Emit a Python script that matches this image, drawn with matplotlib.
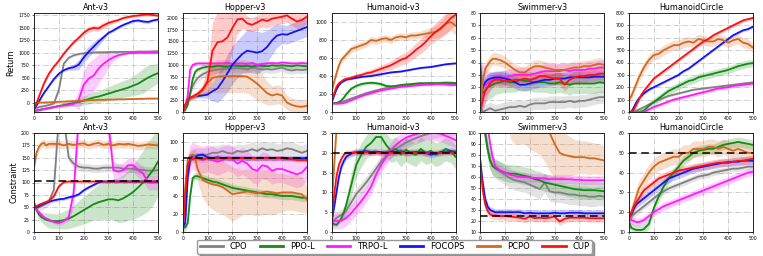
import numpy as np
import matplotlib.pyplot as plt
from matplotlib.lines import Line2D

# x positions (training epochs)
X = [0, 10, 20, 30, 40, 50, 60, 80, 100, 120, 140, 160, 180, 200, 220, 240,
     260, 280, 300, 320, 340, 360, 380, 400, 420, 440, 460, 480, 500]

METHODS = ["CPO", "PPO-L", "TRPO-L", "FOCOPS", "PCPO", "CUP"]
COLORS = ["#808080", "#138a13", "#ff1aff", "#1414f0", "#d2691e", "#ff1010"]

TASKS = ["Ant-v3", "Hopper-v3", "Humanoid-v3", "Swimmer-v3", "HumanoidCircle"]
COST_LIMITS = [103, 82.75, 20, 24.5, 50]

# ---------------- Return: Ant-v3 ----------------
ant_r_cpo = [-130, -110, -90, -80, -70, -60, -50, -20, 250, 780, 900, 950, 975, 990, 1000,
             1005, 1010, 1010, 1015, 1015, 1015, 1020, 1020, 1020, 1025, 1025, 1025, 1030, 1030]
ant_r_ppo = [-170, -160, -150, -140, -130, -120, -110, -90, -70, -50, -30, -10, 10, 40, 70,
             100, 120, 150, 180, 210, 240, 270, 300, 340, 380, 440, 500, 550, 590]
ant_r_trpo = [-170, -160, -150, -140, -130, -120, -110, -90, -70, -60, -50, -30, 50, 350, 480,
              540, 680, 780, 850, 910, 950, 975, 990, 995, 1000, 1000, 1000, 1000, 1000]
ant_r_focops = [-130, -60, 20, 110, 190, 260, 330, 470, 580, 650, 690, 710, 760, 900, 1020,
                1120, 1220, 1310, 1400, 1450, 1510, 1560, 1600, 1640, 1650, 1630, 1620, 1650, 1670]
ant_r_pcpo = [-10, -5, 0, 0, 0, 5, 5, 10, 15, 20, 25, 30, 35, 40, 45,
              50, 55, 55, 60, 60, 65, 65, 70, 70, 75, 75, 80, 80, 80]
ant_r_cup = [-130, -20, 120, 250, 380, 480, 580, 720, 840, 980, 1100, 1210, 1300, 1400, 1470,
             1500, 1490, 1550, 1600, 1630, 1660, 1700, 1720, 1740, 1750, 1765, 1770, 1760, 1745]
ant_r_cpo_sd = 25
ant_r_ppo_sd = [30, 30, 30, 30, 30, 30, 30, 30, 40, 50, 60, 70, 80, 90, 100,
                110, 120, 130, 140, 150, 160, 170, 180, 200, 220, 250, 250, 220, 200]
ant_r_trpo_sd = [20, 20, 20, 20, 20, 20, 20, 20, 20, 20, 20, 40, 200, 300, 320,
                 330, 300, 250, 150, 80, 40, 20, 20, 20, 20, 20, 20, 20, 20]
ant_r_focops_sd = [20, 20, 20, 20, 20, 20, 20, 30, 30, 30, 40, 60, 100, 110, 110,
                   100, 80, 50, 30, 30, 30, 30, 30, 30, 30, 30, 30, 30, 30]
ant_r_pcpo_sd = 15
ant_r_cup_sd = [20, 20, 20, 25, 25, 30, 30, 30, 30, 30, 30, 30, 40, 50, 60,
                60, 60, 60, 50, 40, 30, 30, 30, 30, 30, 30, 30, 30, 30]

# ---------------- Return: Hopper-v3 ----------------
hop_r_cpo = [0, 100, 250, 400, 550, 650, 720, 800, 850, 880, 900, 910, 920, 920, 930,
             920, 900, 950, 920, 900, 910, 900, 920, 940, 900, 880, 900, 890, 900]
hop_r_ppo = [0, 50, 150, 400, 700, 850, 900, 940, 960, 960, 980, 970, 960, 990, 980,
             970, 980, 960, 990, 980, 970, 990, 980, 990, 980, 970, 990, 980, 970]
hop_r_trpo = [0, 100, 350, 900, 1000, 1020, 1030, 1030, 1030, 1030, 1030, 1030, 1040, 1020, 1030,
              1030, 1020, 1040, 1000, 1020, 1030, 1040, 1030, 1050, 1040, 1030, 1030, 1040, 1030]
hop_r_focops = [0, 150, 250, 300, 320, 330, 340, 350, 370, 440, 500, 650, 820, 1000, 1120,
                1230, 1300, 1280, 1260, 1290, 1380, 1520, 1620, 1650, 1640, 1680, 1720, 1760, 1800]
hop_r_pcpo = [0, 150, 250, 280, 300, 330, 360, 450, 620, 720, 750, 760, 760, 760, 760,
              760, 750, 680, 600, 500, 400, 350, 380, 350, 200, 150, 120, 110, 130]
hop_r_cup = [0, 150, 250, 300, 330, 360, 390, 480, 650, 1300, 1480, 1500, 1580, 1780, 1960,
             1980, 1880, 1850, 1900, 1960, 1930, 1980, 2000, 2020, 2050, 1980, 1920, 1950, 2020]
hop_r_cpo_sd = 80
hop_r_ppo_sd = 50
hop_r_trpo_sd = 40
hop_r_focops_sd = [10, 30, 40, 40, 40, 40, 40, 50, 80, 200, 300, 350, 400, 400, 400,
                   400, 450, 450, 450, 400, 350, 300, 250, 200, 200, 200, 200, 200, 200]
hop_r_pcpo_sd = [10, 30, 40, 40, 40, 50, 60, 100, 200, 300, 350, 350, 350, 350, 350,
                 350, 350, 350, 350, 300, 250, 200, 200, 200, 150, 150, 150, 150, 150]
hop_r_cup_sd = [10, 30, 50, 50, 50, 50, 60, 100, 300, 600, 650, 650, 600, 500, 300,
                200, 150, 150, 150, 150, 150, 150, 150, 150, 150, 150, 150, 150, 150]

# ---------------- Return: Humanoid-v3 ----------------
hum_r_cpo = [100, 100, 100, 105, 110, 120, 130, 150, 170, 190, 210, 225, 240, 255, 265,
             275, 285, 290, 295, 300, 305, 310, 315, 320, 320, 325, 325, 320, 320]
hum_r_ppo = [100, 100, 100, 110, 130, 160, 200, 260, 290, 310, 320, 325, 320, 310, 290,
             285, 290, 300, 305, 310, 315, 320, 320, 320, 320, 320, 325, 325, 320]
hum_r_trpo = [100, 95, 95, 95, 95, 100, 110, 130, 155, 175, 195, 210, 225, 240, 250,
              260, 270, 280, 285, 290, 295, 300, 305, 305, 310, 310, 305, 300, 300]
hum_r_focops = [100, 180, 250, 300, 330, 345, 360, 370, 380, 390, 395, 400, 410, 420, 430,
                440, 445, 450, 460, 470, 480, 490, 495, 500, 510, 520, 530, 535, 540]
hum_r_pcpo = [220, 330, 430, 520, 580, 610, 640, 700, 720, 740, 760, 800, 790, 810, 820,
              800, 830, 840, 830, 850, 850, 860, 870, 880, 890, 920, 980, 1000, 960]
hum_r_cup = [100, 200, 280, 320, 340, 360, 370, 380, 400, 410, 430, 440, 460, 480, 500,
             520, 550, 580, 600, 640, 690, 730, 780, 840, 890, 930, 980, 1040, 1080]
hum_r_cpo_sd = 15
hum_r_ppo_sd = 20
hum_r_trpo_sd = 15
hum_r_focops_sd = 10
hum_r_pcpo_sd = [30, 40, 40, 40, 40, 40, 40, 40, 40, 40, 40, 40, 40, 40, 40,
                 40, 40, 40, 40, 40, 40, 40, 50, 60, 70, 80, 100, 100, 100]
hum_r_cup_sd = [10, 20, 20, 20, 20, 20, 20, 20, 25, 30, 30, 35, 40, 40, 45,
                50, 55, 60, 65, 70, 75, 80, 85, 90, 100, 110, 120, 120, 120]

# ---------------- Return: Swimmer-v3 ----------------
swm_r_cpo = [5, 0, 1, 2, 3, 2, 1, 2, 3, 4, 4, 5, 4, 6, 7,
             7, 7, 8, 8, 8, 8, 9, 8, 9, 9, 10, 11, 12, 12]
swm_r_ppo = [40, 15, 17, 20, 21, 22, 23, 24, 25, 24, 24, 26, 25, 25, 24,
             24, 24, 23, 23, 24, 23, 22, 23, 23, 23, 23, 23, 24, 23.5]
swm_r_trpo = [10, 20, 22, 23, 25, 26, 27, 27, 28, 29, 30, 30, 30, 30, 31,
              32, 33, 33, 33, 33, 34, 33, 34, 34, 34, 35, 35, 36, 36]
swm_r_focops = [10, 20, 24, 26, 27, 27.5, 28, 28, 27, 26, 24, 22, 22, 23, 24,
                25, 26, 26, 27, 27, 27, 28, 28, 28, 28, 28, 28.5, 28.5, 28.5]
swm_r_pcpo = [0, 25, 35, 38, 41, 43, 43, 42, 40, 37, 34, 32, 32, 35, 37,
              37, 36, 35, 34, 34, 34, 35, 36, 36, 37, 37, 38, 39, 38]
swm_r_cup = [0, 10, 17, 20, 23, 25, 26, 26, 25, 25, 26, 26, 27, 26, 27,
             29, 29, 28, 27, 27, 22, 26, 28, 29, 29, 30, 30, 31, 31]
swm_r_cpo_sd = 5
swm_r_ppo_sd = [20, 12, 10, 10, 10, 10, 9, 9, 9, 8, 8, 8, 8, 8, 8,
                8, 8, 8, 8, 8, 8, 8, 8, 8, 8, 8, 8, 8, 8]
swm_r_trpo_sd = [25, 20, 15, 10, 8, 6, 6, 6, 6, 6, 6, 6, 6, 6, 6,
                 6, 6, 6, 6, 6, 6, 6, 6, 6, 6, 6, 6, 6, 6]
swm_r_focops_sd = 5
swm_r_pcpo_sd = 5
swm_r_cup_sd = 5

# ---------------- Return: HumanoidCircle ----------------
hc_r_cpo = [0, 0, 0, 10, 20, 30, 40, 60, 80, 100, 115, 130, 140, 150, 160,
            170, 180, 185, 190, 195, 200, 205, 210, 215, 220, 225, 230, 235, 240]
hc_r_ppo = [0, 0, 0, 0, 0, 5, 10, 50, 80, 110, 140, 170, 190, 210, 230,
            250, 260, 280, 290, 300, 310, 320, 330, 340, 355, 370, 380, 390, 395]
hc_r_trpo = [0, 0, 0, 0, 0, 0, 0, 20, 40, 55, 70, 85, 100, 110, 120,
             130, 140, 150, 160, 170, 180, 190, 195, 200, 210, 215, 220, 225, 230]
hc_r_focops = [0, 0, 40, 80, 110, 130, 150, 180, 200, 220, 240, 260, 280, 300, 330,
               350, 380, 410, 440, 470, 500, 530, 560, 590, 620, 640, 660, 670, 690]
hc_r_pcpo = [100, 130, 180, 230, 280, 320, 360, 420, 460, 470, 500, 520, 540, 540, 560,
             570, 560, 590, 580, 570, 570, 590, 580, 560, 580, 590, 560, 550, 520]
hc_r_cup = [0, 0, 20, 60, 100, 140, 170, 220, 270, 300, 330, 360, 390, 420, 450,
            480, 510, 540, 570, 590, 620, 640, 660, 680, 700, 720, 740, 750, 760]
hc_r_cpo_sd = 10
hc_r_ppo_sd = 30
hc_r_trpo_sd = 15
hc_r_focops_sd = 10
hc_r_pcpo_sd = 40
hc_r_cup_sd = 15

# ---------------- Constraint: Ant-v3 ----------------
ant_c_cpo = [50, 48, 50, 52, 55, 58, 62, 85, 230, 230, 150, 138, 132, 130, 130,
             128, 128, 130, 130, 130, 130, 128, 128, 128, 126, 125, 124, 124, 125]
ant_c_ppo = [60, 45, 35, 30, 27, 25, 23, 22, 22, 24, 27, 32, 38, 44, 50,
             56, 60, 63, 66, 66, 64, 68, 74, 81, 90, 100, 112, 125, 142]
ant_c_trpo = [50, 45, 40, 35, 30, 27, 25, 20, 18, 22, 30, 80, 230, 240, 240,
              240, 240, 240, 220, 125, 122, 125, 135, 135, 125, 118, 100, 100, 100]
ant_c_focops = [50, 50, 52, 55, 57, 59, 61, 64, 66, 67, 70, 72, 76, 84, 90,
                95, 100, 102, 102, 102, 102, 102, 102, 102, 102, 102, 102, 102, 102]
ant_c_pcpo = [130, 160, 172, 178, 180, 175, 178, 178, 178, 175, 178, 176, 178, 179, 175,
              178, 180, 176, 178, 175, 178, 177, 178, 176, 174, 175, 177, 176, 175]
ant_c_cup = [50, 52, 55, 57, 59, 61, 63, 72, 92, 101, 102, 102, 102, 102, 102,
             102, 102, 102, 102, 102, 102, 102, 102, 102, 102, 102, 102, 102, 102]
ant_c_cpo_sd = 8
ant_c_ppo_sd = [5, 5, 8, 10, 12, 14, 15, 15, 15, 18, 20, 22, 25, 28, 30,
                32, 35, 38, 40, 42, 45, 48, 50, 55, 60, 65, 70, 70, 70]
ant_c_trpo_sd = [3, 3, 3, 3, 3, 3, 3, 3, 5, 5, 8, 30, 30, 30, 30,
                 30, 30, 30, 30, 20, 15, 15, 15, 15, 15, 15, 15, 15, 15]
ant_c_focops_sd = 3
ant_c_pcpo_sd = 8
ant_c_cup_sd = 2

# ---------------- Constraint: Hopper-v3 ----------------
hop_c_cpo = [5, 40, 75, 82, 85, 85, 86, 85, 86, 88, 88, 90, 88, 87, 90,
             89, 90, 92, 90, 93, 91, 92, 90, 91, 93, 92, 90, 88, 90]
hop_c_ppo = [5, 5, 10, 40, 60, 62, 62, 60, 58, 56, 55, 53, 51, 49, 48,
             47, 46, 45, 44, 43, 42, 42, 41, 40, 40, 40, 39, 38, 38]
hop_c_trpo = [5, 30, 70, 82, 85, 83, 82, 80, 82, 80, 78, 80, 83, 81, 76,
              79, 76, 70, 68, 74, 73, 68, 70, 70, 68, 66, 64, 66, 72]
hop_c_focops = [5, 10, 60, 80, 85, 83, 85, 86, 83, 82, 83, 82, 82, 82, 82,
                82, 82, 82, 82, 82, 82, 82, 82, 82, 82, 82, 82, 82, 82]
hop_c_pcpo = [5, 50, 80, 85, 86, 82, 70, 58, 55, 53, 52, 50, 46, 42, 43,
              44, 45, 44, 43, 44, 45, 44, 43, 44, 44, 44, 43, 42, 36]
hop_c_cup = [5, 40, 75, 80, 81, 82, 82, 81, 82, 82, 82, 82, 82, 82, 82,
             82, 82, 82, 82, 82, 82, 82, 82, 82, 81, 81, 80, 80, 80]
hop_c_cpo_sd = 8
hop_c_ppo_sd = 4
hop_c_trpo_sd = 15
hop_c_focops_sd = 3
hop_c_pcpo_sd = [2, 5, 5, 5, 5, 10, 15, 20, 25, 28, 30, 30, 30, 30, 28,
                 25, 25, 25, 25, 25, 25, 25, 22, 22, 20, 20, 20, 20, 15]
hop_c_cup_sd = 2

# ---------------- Constraint: Humanoid-v3 ----------------
hum_c_cpo = [2.5, 3, 3.5, 4, 4.3, 4.8, 5.5, 7.5, 9.6, 11, 12.5, 14.2, 16, 17.8, 19.2,
             20.2, 21, 21.8, 22.6, 23.2, 23.7, 24.2, 24.6, 25, 25.2, 25.5, 25.7, 25.8, 26]
hum_c_ppo = [2.5, 2, 1.8, 2.5, 3.5, 5, 7, 12, 17, 19.5, 21.5, 22.5, 24, 24, 22,
             20.5, 21, 19.5, 20.8, 20, 19.5, 21, 20, 20.5, 19.5, 20, 21, 20.5, 19]
hum_c_trpo = [2.5, 2.8, 2.8, 2.8, 2.9, 3.2, 3.6, 4.8, 6.3, 7.8, 9.5, 11.5, 14.5, 17, 18.8,
              20.7, 22, 23, 23.8, 24.3, 24.7, 25, 25.2, 25.2, 25, 24.8, 24.3, 23.8, 23.2]
hum_c_focops = [2.5, 6, 10, 14, 16.5, 18, 19, 19.8, 20.2, 20.3, 20.4, 20.2, 20.3, 20.2, 20,
                20.3, 20.2, 20.4, 20, 20.1, 20.2, 20.3, 20, 19.5, 19.8, 20.2, 20.3, 20.4, 20.3]
hum_c_pcpo = [6, 16, 26, 35, 40, 40, 40, 40, 40, 40, 40, 40, 40, 40, 40,
              40, 40, 40, 40, 40, 40, 40, 40, 40, 40, 40, 40, 40, 40]
hum_c_cup = [2.5, 9, 14, 17, 18.5, 19.5, 20, 20, 20.2, 19.8, 20.2, 19.9, 20.1, 19.8, 20.2,
             20, 19.9, 20.2, 19.8, 20.1, 20, 20.2, 19.8, 20.1, 20, 19.9, 20.2, 20, 20.1]
hum_c_cpo_sd = 1.5
hum_c_ppo_sd = [0.5, 0.5, 0.5, 0.5, 1, 1.5, 2, 3, 3, 3, 3, 3, 3, 3, 3,
                3, 3, 3, 3, 3, 3, 3, 3, 3, 3, 3, 3, 3, 3]
hum_c_trpo_sd = 2
hum_c_focops_sd = 0.8
hum_c_pcpo_sd = 2
hum_c_cup_sd = 0.7

# ---------------- Constraint: Swimmer-v3 ----------------
swm_c_cpo = [110, 110, 100, 85, 75, 70, 68, 65, 62, 59, 57, 56, 55, 53, 51,
             49, 55, 47, 46, 46, 45, 44, 44, 43, 43, 42, 42, 43, 42]
swm_c_ppo = [110, 110, 100, 85, 75, 70, 68, 66, 64, 63, 63, 62, 61, 60, 58,
             57, 55, 54, 53, 52, 51, 50, 49, 48.5, 48, 48, 48, 47.5, 47]
swm_c_trpo = [130, 130, 120, 105, 90, 78, 70, 66, 64, 62, 61, 60, 60, 59.5, 59,
              59, 58.5, 58, 58, 58, 58, 58, 57.5, 57.5, 57, 57, 57, 57, 57]
swm_c_focops = [75, 55, 40, 33, 30, 29, 28, 28, 28, 28, 28, 28, 27, 27.5, 27,
                27, 27, 27, 27.5, 27, 27, 27.5, 27.5, 27.5, 27, 27, 27, 27, 27]
swm_c_pcpo = [160, 160, 160, 160, 160, 160, 160, 160, 160, 150, 145, 140, 135, 130, 125,
              120, 112, 100, 90, 82, 80, 79, 78, 78, 78, 77, 77, 76, 75]
swm_c_cup = [72, 48, 35, 29, 26, 25, 25, 24.5, 24.5, 24, 23.5, 23, 22, 24, 22.5,
             23, 22.5, 23, 24, 19.5, 22, 23, 23, 23, 23, 22.5, 22.5, 22.5, 22.5]
swm_c_cpo_sd = 9
swm_c_ppo_sd = 8
swm_c_trpo_sd = 4
swm_c_focops_sd = 3
swm_c_pcpo_sd = [10, 10, 10, 10, 10, 10, 10, 10, 10, 55, 55, 50, 45, 45, 42,
                 40, 38, 35, 30, 25, 20, 18, 16, 15, 15, 15, 14, 14, 13]
swm_c_cup_sd = 3.5

# ---------------- Constraint: HumanoidCircle ----------------
hc_c_cpo = [17, 18, 19, 20, 21, 22, 23, 25, 27, 29, 30.5, 32, 33, 34, 35,
            36, 37, 38, 38.5, 39, 40, 40.5, 41, 41.5, 42, 42, 42.5, 43, 43]
hc_c_ppo = [15, 12, 11.5, 11, 11, 11, 11.5, 14, 22, 28, 33, 37, 40, 43, 46,
            48, 50, 51, 51.5, 52, 52, 53, 54, 54.5, 55, 55.5, 55, 54.5, 54]
hc_c_trpo = [17, 16, 15.5, 15, 15, 15.5, 16, 18, 20, 21.5, 23, 24, 25, 26, 27,
             28, 29, 30, 31, 32, 33, 34, 35, 36, 37, 38, 39, 40, 40.5]
hc_c_focops = [17, 19, 22, 24, 25, 26, 27, 29, 31, 33, 35, 37, 38, 39, 40,
               41, 42, 42.5, 43, 43.5, 44, 44.5, 45, 45, 45.5, 45.5, 46, 46, 46]
hc_c_pcpo = [17, 20, 24, 28, 32, 34, 36, 40, 43, 45, 46, 47, 48, 48, 50,
             50, 52, 52, 52, 53, 53, 52, 53, 52, 51, 52, 51, 50, 50]
hc_c_cup = [17, 20, 23, 25, 27, 29, 31, 33, 35, 37, 38, 39, 40, 41, 41.5,
            42, 42.5, 43, 43.5, 44, 44.5, 45, 45, 45.5, 45.5, 46, 46, 46.5, 47]
hc_c_cpo_sd = 1.5
hc_c_ppo_sd = 2.5
hc_c_trpo_sd = 2
hc_c_focops_sd = 2
hc_c_pcpo_sd = 4
hc_c_cup_sd = 2

RETURNS = [
    ([ant_r_cpo, ant_r_ppo, ant_r_trpo, ant_r_focops, ant_r_pcpo, ant_r_cup],
     [ant_r_cpo_sd, ant_r_ppo_sd, ant_r_trpo_sd, ant_r_focops_sd, ant_r_pcpo_sd, ant_r_cup_sd]),
    ([hop_r_cpo, hop_r_ppo, hop_r_trpo, hop_r_focops, hop_r_pcpo, hop_r_cup],
     [hop_r_cpo_sd, hop_r_ppo_sd, hop_r_trpo_sd, hop_r_focops_sd, hop_r_pcpo_sd, hop_r_cup_sd]),
    ([hum_r_cpo, hum_r_ppo, hum_r_trpo, hum_r_focops, hum_r_pcpo, hum_r_cup],
     [hum_r_cpo_sd, hum_r_ppo_sd, hum_r_trpo_sd, hum_r_focops_sd, hum_r_pcpo_sd, hum_r_cup_sd]),
    ([swm_r_cpo, swm_r_ppo, swm_r_trpo, swm_r_focops, swm_r_pcpo, swm_r_cup],
     [swm_r_cpo_sd, swm_r_ppo_sd, swm_r_trpo_sd, swm_r_focops_sd, swm_r_pcpo_sd, swm_r_cup_sd]),
    ([hc_r_cpo, hc_r_ppo, hc_r_trpo, hc_r_focops, hc_r_pcpo, hc_r_cup],
     [hc_r_cpo_sd, hc_r_ppo_sd, hc_r_trpo_sd, hc_r_focops_sd, hc_r_pcpo_sd, hc_r_cup_sd]),
]
COSTS = [
    ([ant_c_cpo, ant_c_ppo, ant_c_trpo, ant_c_focops, ant_c_pcpo, ant_c_cup],
     [ant_c_cpo_sd, ant_c_ppo_sd, ant_c_trpo_sd, ant_c_focops_sd, ant_c_pcpo_sd, ant_c_cup_sd]),
    ([hop_c_cpo, hop_c_ppo, hop_c_trpo, hop_c_focops, hop_c_pcpo, hop_c_cup],
     [hop_c_cpo_sd, hop_c_ppo_sd, hop_c_trpo_sd, hop_c_focops_sd, hop_c_pcpo_sd, hop_c_cup_sd]),
    ([hum_c_cpo, hum_c_ppo, hum_c_trpo, hum_c_focops, hum_c_pcpo, hum_c_cup],
     [hum_c_cpo_sd, hum_c_ppo_sd, hum_c_trpo_sd, hum_c_focops_sd, hum_c_pcpo_sd, hum_c_cup_sd]),
    ([swm_c_cpo, swm_c_ppo, swm_c_trpo, swm_c_focops, swm_c_pcpo, swm_c_cup],
     [swm_c_cpo_sd, swm_c_ppo_sd, swm_c_trpo_sd, swm_c_focops_sd, swm_c_pcpo_sd, swm_c_cup_sd]),
    ([hc_c_cpo, hc_c_ppo, hc_c_trpo, hc_c_focops, hc_c_pcpo, hc_c_cup],
     [hc_c_cpo_sd, hc_c_ppo_sd, hc_c_trpo_sd, hc_c_focops_sd, hc_c_pcpo_sd, hc_c_cup_sd]),
]

# axis ranges / ticks
RET_YLIM = [(-190, 1800), (0, 2100), (0, 1100), (0, 80), (0, 800)]
RET_YTICKS = [np.arange(0, 1751, 250), np.arange(0, 2001, 250), np.arange(0, 1001, 200),
              np.arange(0, 81, 10), np.arange(0, 801, 100)]
COST_YLIM = [(0, 200), (0, 110), (0, 25), (10, 100), (10, 60)]
COST_YTICKS = [np.arange(0, 201, 25), np.arange(0, 101, 20), np.arange(0, 26, 5),
               np.arange(10, 101, 10), np.arange(10, 61, 10)]

W, H = 763, 256
fig = plt.figure(figsize=(W / 100, H / 100), dpi=100)

ax_w = 124 / W
lefts = [34, 182.75, 331.5, 480.25, 629]


def style_ax(ax, title, ylim, yticks):
    ax.set_xlim(0, 500)
    ax.set_ylim(*ylim)
    ax.set_xticks([0, 100, 200, 300, 400, 500])
    ax.set_yticks(yticks)
    ax.tick_params(labelsize=3.3, length=1.5, width=0.4, pad=1.5)
    ax.grid(True, color="#c8c8c8", linestyle="-.", linewidth=0.6)
    ax.set_axisbelow(True)
    for s in ax.spines.values():
        s.set_linewidth(0.7)
        s.set_color("#222222")
    ax.set_title(title, fontsize=5.8, pad=2)


def draw(ax, curves, sds):
    x = np.array(X)
    for y, sd, c in zip(curves, sds, COLORS):
        y = np.array(y, dtype=float)
        sd = np.array(sd, dtype=float)
        ax.fill_between(x, y - sd, y + sd, color=c, alpha=0.22, lw=0)
        ax.plot(x, y, color=c, lw=1.3)


for i in range(5):
    # top row: return
    ax = fig.add_axes([lefts[i] / W, (H - 112) / H, ax_w, 99 / H])
    draw(ax, *RETURNS[i])
    style_ax(ax, TASKS[i], RET_YLIM[i], RET_YTICKS[i])
    if i == 0:
        ax.set_ylabel("Return", fontsize=5.8, labelpad=2)

    # bottom row: constraint
    ax = fig.add_axes([lefts[i] / W, (H - 232) / H, ax_w, 99 / H])
    draw(ax, *COSTS[i])
    ax.axhline(COST_LIMITS[i], color="black", lw=1.1, ls=(0, (5, 3)), zorder=5)
    style_ax(ax, TASKS[i], COST_YLIM[i], COST_YTICKS[i])
    if i == 0:
        ax.set_ylabel("Constraint", fontsize=5.8, labelpad=2)

handles = [Line2D([0], [0], color=c, lw=2) for c in COLORS]
fig.legend(handles, METHODS, loc="center", bbox_to_anchor=(394.5 / W, (H - 246.5) / H),
           ncol=6, fontsize=6, frameon=True, fancybox=True, shadow=True,
           handlelength=2.8, columnspacing=1.5, borderpad=0.3, edgecolor="#999999")

plt.savefig("out.png", dpi=100)
